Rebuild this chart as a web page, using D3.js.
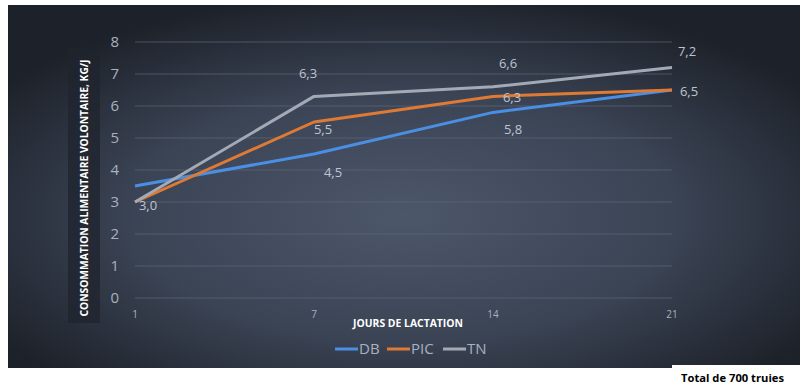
<!DOCTYPE html>
<html>
<head>
<meta charset="utf-8">
<script src="https://cdn.jsdelivr.net/npm/d3@7"></script>
<style>
  body { margin: 0; background: #fff; }
  svg { display: block; }
  .tick-label { font-family: "Open Sans", "DejaVu Sans", sans-serif; fill: #a9b1c0; }
  .axis-title { font-family: "Open Sans", "Liberation Sans", sans-serif; font-weight: bold; fill: #fff; }
</style>
</head>
<body>
<div id="chart"></div>
<script>
// data
const days = ['1', '7', '14', '21'];
const seriesNames = ['DB', 'PIC', 'TN'];
const dbValues = [3.5, 4.5, 5.8, 6.5];
const picValues = [3.0, 5.5, 6.3, 6.5];
const tnValues = [3.0, 6.3, 6.6, 7.2];
const yTicks = [0, 1, 2, 3, 4, 5, 6, 7, 8];

const width = 800, height = 386;
const colors = { DB: '#4a8fe3', PIC: '#df7a35', TN: '#a3aab6' };

const series = [
  { name: 'DB', values: dbValues },
  { name: 'PIC', values: picValues },
  { name: 'TN', values: tnValues }
];

// which data labels show, and where (dx, dy from the point)
const labelPlacement = {
  DB: [null, [19, 18], [20, 17], null],
  PIC: [null, [9, 7], [19, 1], [17, 1]],
  TN: [[13, 3], [-6, -23], [15, -23], [15, -16]]
};

const svg = d3.select('#chart')
  .append('svg')
  .attr('width', width)
  .attr('height', height);

const defs = svg.append('defs');
const grad = defs.append('radialGradient')
  .attr('id', 'bg')
  .attr('cx', '50%').attr('cy', '58%')
  .attr('r', '62%');
grad.append('stop').attr('offset', '0%').attr('stop-color', '#4d576a');
grad.append('stop').attr('offset', '55%').attr('stop-color', '#3b4455');
grad.append('stop').attr('offset', '100%').attr('stop-color', '#1d2129');

svg.append('rect')
  .attr('x', 8).attr('y', 5)
  .attr('width', 792).attr('height', 363)
  .attr('fill', 'url(#bg)');

const x = d3.scalePoint()
  .domain(days)
  .range([135, 672]);

const y = d3.scaleLinear()
  .domain([0, 8])
  .range([298, 42]);

// gridlines
svg.append('g')
  .selectAll('line')
  .data(yTicks)
  .enter().append('line')
  .attr('x1', 135).attr('x2', 672)
  .attr('y1', d => y(d)).attr('y2', d => y(d))
  .attr('stroke', '#5c6678')
  .attr('stroke-opacity', 0.7)
  .attr('stroke-width', 1);

// y tick labels
svg.append('g')
  .selectAll('text')
  .data(yTicks)
  .enter().append('text')
  .attr('class', 'tick-label')
  .attr('x', 119)
  .attr('y', d => y(d))
  .attr('dy', '0.36em')
  .attr('text-anchor', 'end')
  .style('font-size', '15px')
  .text(d => d);

// x tick labels
svg.append('g')
  .selectAll('text')
  .data(days)
  .enter().append('text')
  .attr('class', 'tick-label')
  .attr('x', d => x(d))
  .attr('y', 318)
  .attr('text-anchor', 'middle')
  .style('font-size', '10px')
  .text(d => d);

// y axis title with its dark box
svg.append('rect')
  .attr('x', 68).attr('y', 48)
  .attr('width', 32).attr('height', 275)
  .attr('fill', '#1f242d')
  .attr('fill-opacity', 0.75);

svg.append('text')
  .attr('class', 'axis-title')
  .attr('transform', 'translate(88,188) rotate(-90)')
  .attr('text-anchor', 'middle')
  .attr('textLength', 257)
  .attr('lengthAdjust', 'spacingAndGlyphs')
  .style('font-size', '10px')
  .text('CONSOMMATION ALIMENTAIRE VOLONTAIRE, KG/J');

svg.append('text')
  .attr('class', 'axis-title')
  .attr('x', 408).attr('y', 327)
  .attr('text-anchor', 'middle')
  .attr('textLength', 110)
  .attr('lengthAdjust', 'spacingAndGlyphs')
  .style('font-size', '10px')
  .text('JOURS DE LACTATION');

// lines
const line = d3.line()
  .x((d, i) => x(days[i]))
  .y(d => y(d));

svg.append('g')
  .selectAll('path')
  .data(series)
  .enter().append('path')
  .attr('d', d => line(d.values))
  .attr('fill', 'none')
  .attr('stroke', d => colors[d.name])
  .attr('stroke-width', 3)
  .attr('stroke-linejoin', 'round');

// data labels
const labels = [];
series.forEach(s => {
  s.values.forEach((v, i) => {
    const p = labelPlacement[s.name][i];
    if (p) labels.push({ day: days[i], value: v, dx: p[0], dy: p[1] });
  });
});

svg.append('g')
  .selectAll('text')
  .data(labels)
  .enter().append('text')
  .attr('class', 'tick-label')
  .attr('x', d => x(d.day) + d.dx)
  .attr('y', d => y(d.value) + d.dy)
  .attr('dy', '0.36em')
  .attr('text-anchor', 'middle')
  .style('font-size', '13px')
  .style('fill', '#bcc4d2')
  .text(d => d3.format('.1f')(d.value).replace('.', ','));

// legend
const legendX = d3.scaleOrdinal()
  .domain(seriesNames)
  .range([335, 387, 443]);

const legend = svg.append('g')
  .selectAll('g')
  .data(seriesNames)
  .enter().append('g')
  .attr('transform', d => `translate(${legendX(d)},349)`);

legend.append('line')
  .attr('x1', 0).attr('x2', 23)
  .attr('stroke', d => colors[d])
  .attr('stroke-width', 3);

legend.append('text')
  .attr('class', 'tick-label')
  .attr('x', 24)
  .attr('dy', '0.36em')
  .style('font-size', '15px')
  .text(d => d);

// footnote box
svg.append('rect')
  .attr('x', 672).attr('y', 365)
  .attr('width', 128).attr('height', 21)
  .attr('fill', '#fff');

svg.append('text')
  .attr('x', 681).attr('y', 382)
  .attr('textLength', 103)
  .attr('lengthAdjust', 'spacingAndGlyphs')
  .style('font-family', '"Open Sans", "Liberation Sans", sans-serif')
  .style('font-weight', 'bold')
  .style('font-size', '11px')
  .style('fill', '#000')
  .text('Total de 700 truies');
</script>
</body>
</html>
